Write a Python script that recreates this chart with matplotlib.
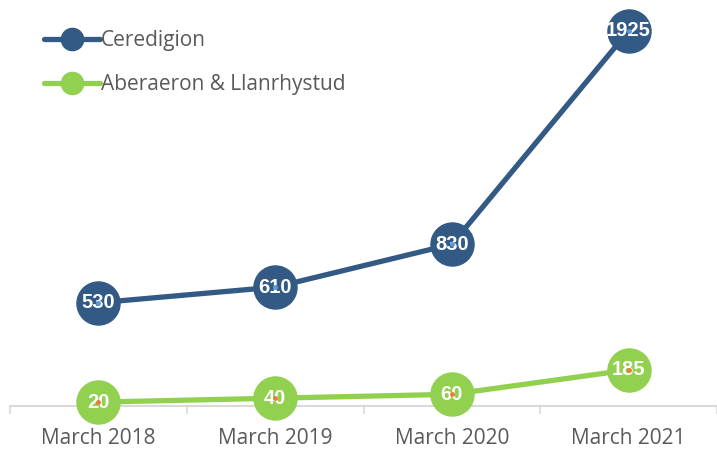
import matplotlib.pyplot as plt
from matplotlib.lines import Line2D
import numpy as np

# Données du graphique
periodes = ["March 2018", "March 2019", "March 2020", "March 2021"]
ceredigion = [530, 610, 830, 1925]
aberaeron = [20, 40, 60, 185]

bleu = "#335A84"
vert = "#92D050"
bleu_clair = "#5B9BD5"
orange = "#ED7D31"
gris = "#595959"

fig = plt.figure(figsize=(7.17, 4.49), dpi=100)
ax = fig.add_axes([0.014, 0.0958, 0.986, 0.868])
x = np.arange(len(periodes))

for valeurs, couleur, point in [(ceredigion, bleu, bleu_clair), (aberaeron, vert, orange)]:
    ax.plot(x, valeurs, color=couleur, lw=3.8, marker="o", ms=31,
            mec=couleur, mfc=couleur, solid_capstyle="round", zorder=3, clip_on=False)
    for xi, v in zip(x, valeurs):
        ax.text(xi, v, str(v), color="white", fontsize=14.5, fontweight="bold",
                family="Liberation Sans", ha="center", va="center", zorder=4)
    ax.plot(x, valeurs, ls="none", marker="o", ms=2.5, color=point, zorder=5, clip_on=False)

ax.set_xlim(-0.5, 3.5)
ax.set_ylim(0, 2000)
ax.set_xticks(x)
ax.set_xticklabels(periodes, fontsize=15, color=gris, family="Open Sans")
ax.set_xticks(np.arange(-0.5, 4, 1), minor=True)
ax.tick_params(axis="x", which="major", length=0, pad=16)
ax.tick_params(axis="x", which="minor", length=6, color="#D9D9D9", width=1.2)
ax.set_yticks([])
for cote in ["top", "right", "left"]:
    ax.spines[cote].set_visible(False)
ax.spines["bottom"].set_color("#D9D9D9")
ax.spines["bottom"].set_linewidth(1.5)
ax.spines["bottom"].set_zorder(1)
ax.patch.set_alpha(0)

poignees = [
    Line2D([], [], color=bleu, lw=3.8, marker="o", ms=16, solid_capstyle="round"),
    Line2D([], [], color=vert, lw=3.8, marker="o", ms=16, solid_capstyle="round"),
]
leg = fig.legend(poignees, ["Ceredigion", "Aberaeron & Llanrhystud"],
                 loc="upper left", bbox_to_anchor=(0.035, 0.975), frameon=False,
                 handlelength=2.7, handletextpad=0.05, labelspacing=1.12,
                 prop={"family": "Open Sans", "size": 15})
for t in leg.get_texts():
    t.set_color(gris)

fig.savefig("out.png", dpi=100)
